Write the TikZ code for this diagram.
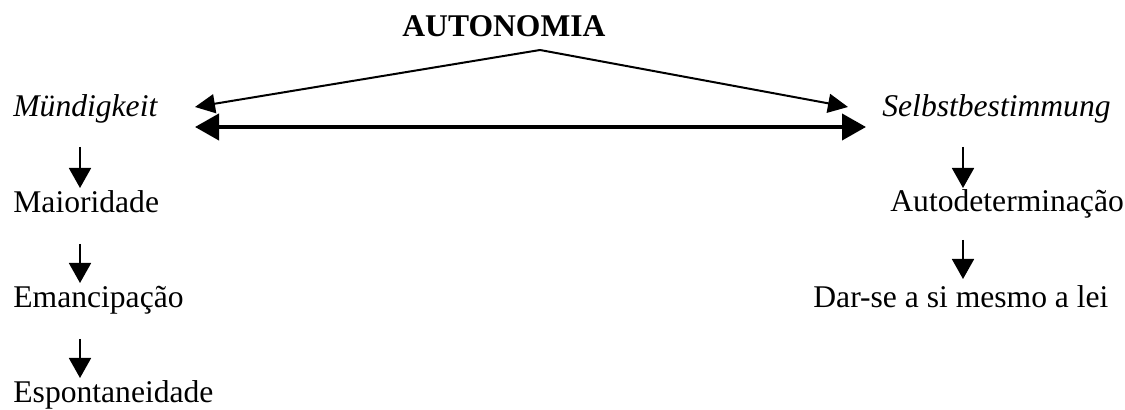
\documentclass[tikz,border=0pt]{standalone}
\usepackage{fontspec}
\setmainfont{Liberation Serif}
\usetikzlibrary{arrows.meta}
\begin{document}
\begin{tikzpicture}[x=0.5pt,y=-0.5pt,
  txt/.style={anchor=base west,inner sep=0pt,font=\fontsize{15.8pt}{19pt}\selectfont},
  thinarr/.style={line width=1pt,-{Triangle[length=10pt,width=9.5pt]}},
  thickarr/.style={line width=2pt,{Triangle[length=12pt,width=13pt]}-{Triangle[length=12pt,width=13pt]}},
  downarr/.style={line width=0.9pt,-{Triangle[length=10pt,width=11pt]}}]
\useasboundingbox (0,0) rectangle (1125,410);
% texts
\node[txt,font=\fontsize{15.8pt}{19pt}\selectfont\bfseries] (auto) at (402,37) {AUTONOMIA};
\node[txt,font=\fontsize{15.8pt}{19pt}\selectfont\itshape] (mund) at (13,117) {Mündigkeit};
\node[txt,font=\fontsize{15.8pt}{19pt}\selectfont\itshape] (selb) at (882,117) {Selbstbestimmung};
\node[txt] (maior) at (13,213) {Maioridade};
\node[txt] (eman) at (13,308) {Emancipação};
\node[txt] (espo) at (13,403) {Espontaneidade};
\node[txt] (autod) at (890,212) {Autodeterminação};
\node[txt] (dar) at (813,308) {Dar-se a si mesmo a lei};
% connector endpoints
\coordinate (apex) at (540,50);
\coordinate (mundR1) at (195,107);
\coordinate (mundR2) at (195,127);
\coordinate (selbL1) at (848,107);
\coordinate (selbL2) at (866,127);
\coordinate (a1s) at (80,147); \coordinate (a1e) at (80,188);
\coordinate (a2s) at (80,244); \coordinate (a2e) at (80,283);
\coordinate (a3s) at (80,339); \coordinate (a3e) at (80,378);
\coordinate (b1s) at (963,147); \coordinate (b1e) at (963,188);
\coordinate (b2s) at (963,240); \coordinate (b2e) at (963,279);
% connectors
\draw[thinarr] (apex) -- (mundR1);
\draw[thinarr] (apex) -- (selbL1);
\draw[thickarr] (mundR2) -- (selbL2);
\draw[downarr] (a1s) -- (a1e);
\draw[downarr] (a2s) -- (a2e);
\draw[downarr] (a3s) -- (a3e);
\draw[downarr] (b1s) -- (b1e);
\draw[downarr] (b2s) -- (b2e);
\end{tikzpicture}
\end{document}
